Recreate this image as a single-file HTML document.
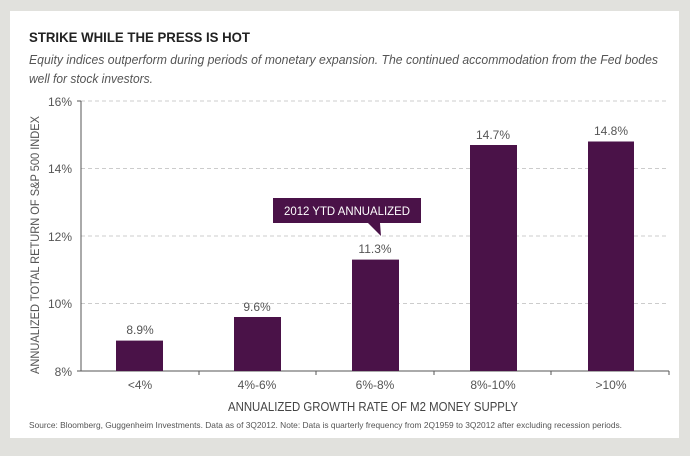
<!DOCTYPE html>
<html><head><style>
body{margin:0;width:690px;height:451px;background:#e1e1dd;font-family:"Liberation Sans",sans-serif;}
</style></head><body>
<svg width="690" height="451" xmlns="http://www.w3.org/2000/svg" font-family="Liberation Sans, sans-serif">
<rect x="10" y="11" width="669" height="427" fill="#fff"/>
<text x="29" y="42" font-size="14" font-weight="bold" fill="#222" textLength="221" lengthAdjust="spacingAndGlyphs">STRIKE WHILE THE PRESS IS HOT</text>
<text x="29" y="64" font-size="13" font-style="italic" fill="#555" textLength="629" lengthAdjust="spacingAndGlyphs">Equity indices outperform during periods of monetary expansion. The continued accommodation from the Fed bodes</text>
<text x="29" y="83" font-size="13" font-style="italic" fill="#555" textLength="124" lengthAdjust="spacingAndGlyphs">well for stock investors.</text>
<g stroke="#ccc" stroke-dasharray="4,3" stroke-width="1">
<line x1="81" y1="101" x2="669" y2="101"/>
<line x1="81" y1="168.5" x2="669" y2="168.5"/>
<line x1="81" y1="236" x2="669" y2="236"/>
<line x1="81" y1="303.5" x2="669" y2="303.5"/>
</g>
<g stroke="#555" stroke-width="1">
<line x1="81" y1="101" x2="81" y2="371"/>
<line x1="77" y1="101" x2="81" y2="101"/>
<line x1="77" y1="371" x2="669" y2="371"/>
<line x1="199" y1="371" x2="199" y2="375"/>
<line x1="316" y1="371" x2="316" y2="375"/>
<line x1="434" y1="371" x2="434" y2="375"/>
<line x1="551" y1="371" x2="551" y2="375"/>
<line x1="669" y1="371" x2="669" y2="375"/>
</g>
<g font-size="12" fill="#555" text-anchor="end">
<text x="72" y="106">16%</text><text x="72" y="173">14%</text><text x="72" y="241">12%</text><text x="72" y="308">10%</text><text x="72" y="376">8%</text>
</g>
<text transform="translate(39,245) rotate(-90)" font-size="11.5" fill="#555" text-anchor="middle" textLength="258" lengthAdjust="spacingAndGlyphs">ANNUALIZED TOTAL RETURN OF S&amp;P 500 INDEX</text>
<g fill="#4a1248">
<rect x="116" y="340.6" width="47" height="30.4"/>
<rect x="234" y="317" width="47" height="54"/>
<rect x="352" y="259.6" width="47" height="111.4"/>
<rect x="470" y="145" width="47" height="226"/>
<rect x="588" y="141.5" width="46" height="229.5"/>
</g>
<g font-size="12" fill="#555" text-anchor="middle">
<text x="140" y="334">8.9%</text><text x="257" y="311">9.6%</text><text x="375" y="253">11.3%</text><text x="493" y="139">14.7%</text><text x="611" y="135">14.8%</text>
<text x="140" y="389">&lt;4%</text><text x="257" y="389">4%-6%</text><text x="375" y="389">6%-8%</text><text x="493" y="389">8%-10%</text><text x="611" y="389">&gt;10%</text>
</g>
<text x="228" y="411" font-size="12.5" fill="#444" textLength="290" lengthAdjust="spacingAndGlyphs">ANNUALIZED GROWTH RATE OF M2 MONEY SUPPLY</text>
<text x="29" y="428" font-size="8.5" fill="#555" textLength="593" lengthAdjust="spacingAndGlyphs">Source: Bloomberg, Guggenheim Investments. Data as of 3Q2012. Note: Data is quarterly frequency from 2Q1959 to 3Q2012 after excluding recession periods.</text>
<polygon points="273,198 421,198 421,223 380,223 381,236 368,223 273,223" fill="#4a1248"/>
<text x="347" y="215" font-size="11.5" fill="#fff" text-anchor="middle" textLength="126" lengthAdjust="spacingAndGlyphs">2012 YTD ANNUALIZED</text>
</svg>
</body></html>
